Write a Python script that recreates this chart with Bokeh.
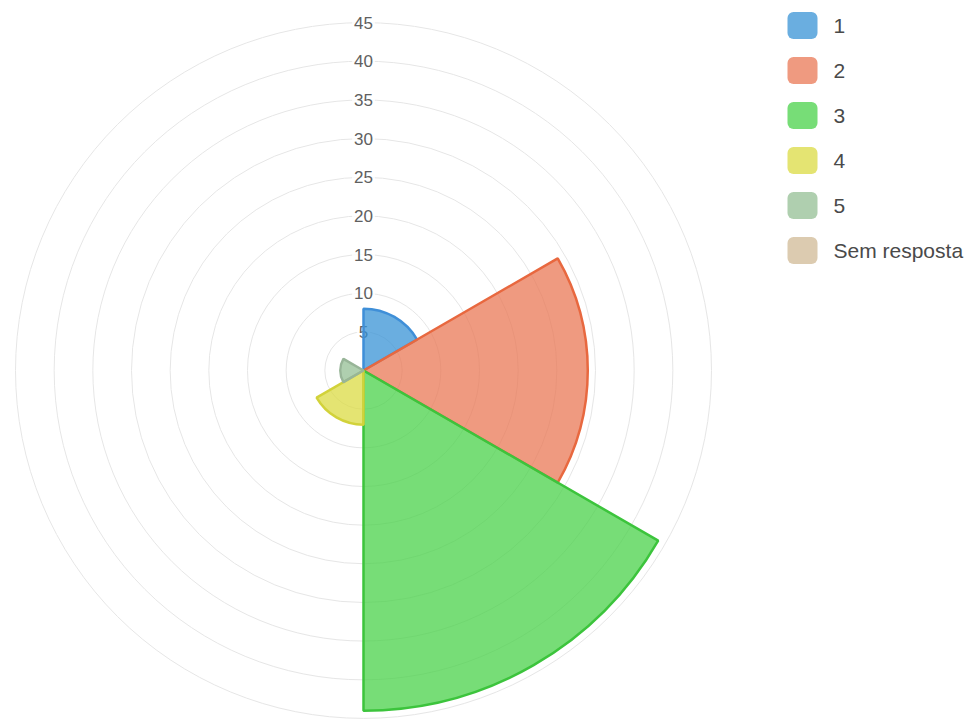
from bokeh.plotting import figure
from bokeh.models import Range1d
from bokeh.core.properties import value
from bokeh.embed import file_html
from bokeh.resources import INLINE

# Polar area chart: answers per rating
categories = ["1", "2", "3", "4", "5", "Sem resposta"]
counts = [8, 29, 44, 7, 3, 0]
tick_values = [5, 10, 15, 20, 25, 30, 35, 40, 45]
tick_labels = ["5", "10", "15", "20", "25", "30", "35", "40", "45"]

fill_colors = ["#3893d6", "#ea7856", "#4ad24a", "#dbdb43", "#94bf94", "#d0ba96"]
line_colors = ["#3f8fd8", "#e8683f", "#3cc43c", "#d2d23a", "#98b598", "#cdb68f"]
swatch_colors = ["#6aaee0", "#ef9a80", "#77dd77", "#e4e472", "#afcfaf", "#dccbb0"]

W, H = 964, 723
CX, CY = 363, 370          # centre of the polar area, in pixels
R_MAX = 348                # pixel radius of the outer ring
SCALE = R_MAX / max(tick_values)

def px_x(px):
    return (px - CX) / SCALE

def px_y(py):
    return (CY - py) / SCALE

p = figure(width=W, height=H, output_backend="svg", toolbar_location=None,
           x_range=Range1d(px_x(0), px_x(W)), y_range=Range1d(px_y(H), px_y(0)),
           min_border=0, outline_line_color=None)
p.axis.visible = False
p.grid.visible = False
p.background_fill_color = "white"
p.border_fill_color = "white"

# radial grid rings
p.circle(x=0, y=0, radius=tick_values, fill_color=None,
         line_color="#e6e6e6", line_width=1)

# ring labels with white backdrop
p.text(x=0, y=tick_values, text=tick_labels, text_align="center",
       text_baseline="middle", text_font=value("Liberation Sans"),
       text_font_size="17px", text_color="#606060",
       background_fill_color="white", background_fill_alpha=0.8,
       padding=2)

# one 60-degree segment per category, clockwise from the top
n = len(categories)
step = 360 / n
starts = [90 - step * (i + 1) for i in range(n)]
ends = [90 - step * i for i in range(n)]
for i in range(n):
    if counts[i] <= 0:
        continue
    p.wedge(x=0, y=0, radius=counts[i], start_angle=starts[i], end_angle=ends[i],
            start_angle_units="deg", end_angle_units="deg",
            fill_color=fill_colors[i], fill_alpha=0.75,
            line_color=line_colors[i], line_width=2.5)

# legend on the right
leg_x = px_x(802)
leg_y = [px_y(25 + 45 * i) for i in range(n)]
p.rect(x=leg_x, y=leg_y, width=30, height=27, width_units="screen",
       height_units="screen", fill_color=swatch_colors, line_color=None,
       border_radius=6)
p.text(x=px_x(833), y=leg_y, text=categories, text_align="left",
       text_baseline="middle", text_font=value("Liberation Sans"),
       text_font_size="21px", text_color="#4a4a4a")

open("out.html", "w").write(file_html(p, INLINE))
